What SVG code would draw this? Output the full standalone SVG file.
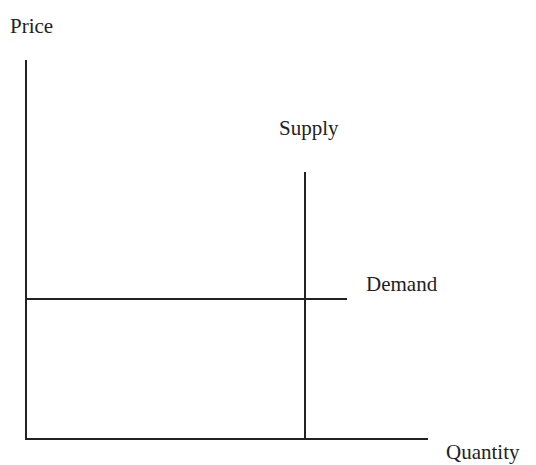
<svg xmlns="http://www.w3.org/2000/svg" width="536" height="465" viewBox="0 0 536 465">
<style>
.l{stroke:#222;stroke-width:2;fill:none}
text{font-family:"Liberation Serif","Times New Roman",serif;font-size:21px;fill:#222}
</style>
<rect width="536" height="465" fill="#fff"/>
<g id="connectors">
<line class="l" x1="26" y1="60" x2="26" y2="439"/>
<line class="l" x1="25" y1="439" x2="428" y2="439"/>
<line class="l" x1="305" y1="172" x2="305" y2="439"/>
<line class="l" x1="26" y1="299" x2="347" y2="299"/>
</g>
<g id="price"><text x="10" y="33">Price</text></g>
<g id="supply"><text x="279" y="135">Supply</text></g>
<g id="demand"><text x="366" y="291">Demand</text></g>
<g id="quantity"><text x="446" y="459">Quantity</text></g>
</svg>
